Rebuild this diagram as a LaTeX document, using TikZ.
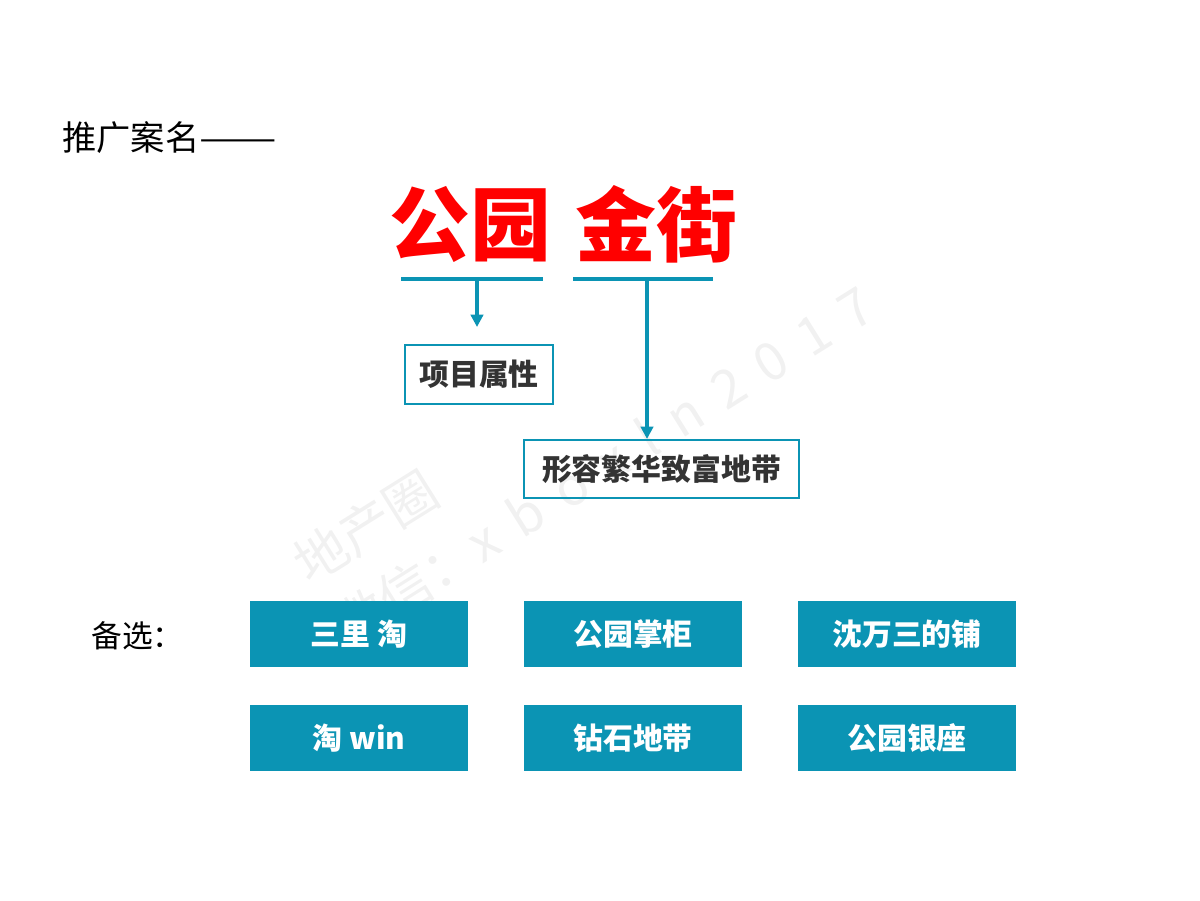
\documentclass[tikz,border=0pt]{standalone}
\usepackage{fontspec}
\setmainfont{Noto Sans CJK SC}
\newfontfamily\heavyfont{Noto Sans CJK SC Black}
\usetikzlibrary{arrows.meta,positioning}

\definecolor{caseblue}{HTML}{0B94B4}
\definecolor{darktext}{HTML}{333333}
\definecolor{markgray}{HTML}{F1F1F1}
\definecolor{namered}{HTML}{FF0000}

\tikzset{
    link/.style={caseblue, line width=1.8pt},
    linkarrow/.style={link, -{Triangle[width=7pt,length=7pt]}},
    note/.style={draw=caseblue, line width=1.2pt, text=darktext, inner sep=0pt,
        font=\fontsize{17}{20}\selectfont\bfseries},
    pick/.style={fill=caseblue, text=white, inner sep=0pt,
        minimum width=4.36cm, minimum height=1.32cm,
        font=\fontsize{17}{20}\selectfont\bfseries},
    bigname/.style={text=namered, inner sep=0pt, font=\heavyfont\fontsize{46}{52}\selectfont}
}

\begin{document}
\begin{tikzpicture}[x=0.02cm, y=-0.02cm]

        \useasboundingbox (0, 0) rectangle (1200, 900);

        \node[markgray, rotate=32, anchor=west, align=left, inner sep=0pt,
            font=\fontsize{30}{42}\selectfont] (mark) at (318, 600)
            {地产圈\\微信：x\, b\, o\, x\, l\, n\, 2\, 0\, 1\, 7};

        \node[anchor=west, inner sep=0pt, font=\fontsize{19.5}{23}\selectfont] (title) at (62, 138) {推广案名\scalebox{1.35}[1]{——}};

        \node[bigname] (park) at (470, 224) {公园};

        \node[bigname] (street) at (656, 224) {金街};

        \coordinate (parkL) at (401, 279);
        \coordinate (parkR) at (543, 279);
        \coordinate (parkM) at (477, 279);
        \coordinate (parkT) at (477, 327);

        \coordinate (streetL) at (573, 279);
        \coordinate (streetR) at (713, 279);
        \coordinate (streetM) at (647, 279);

        \draw[link] (parkL) -- (parkR);

        \draw[link] (streetL) -- (streetR);

        \node[note, minimum width=2.96cm, minimum height=1.18cm] (attr) at (479, 374.5) {项目属性};

        \node[note, minimum width=5.5cm, minimum height=1.16cm] (desc) at (661.5, 469) {形容繁华致富地带};

        \draw[linkarrow] (parkM) -- (parkT);

        \draw[linkarrow] (streetM) -- (streetM |- desc.north);

        \node[anchor=west, inner sep=0pt, font=\fontsize{17.5}{20}\selectfont] (alt) at (91, 636) {备选：};

        \foreach \name/\txt/\x/\y in {sanli/三里 淘/359/634, gongzhang/公园掌柜/633/634, shenpu/沈万三的铺/907/634,
                                      taowin/淘 win/359/738, zuanshi/钻石地带/633/738, yinzuo/公园银座/907/738} {
            \node[pick] (\name) at (\x, \y) {\txt};
        }

\end{tikzpicture}
\end{document}
